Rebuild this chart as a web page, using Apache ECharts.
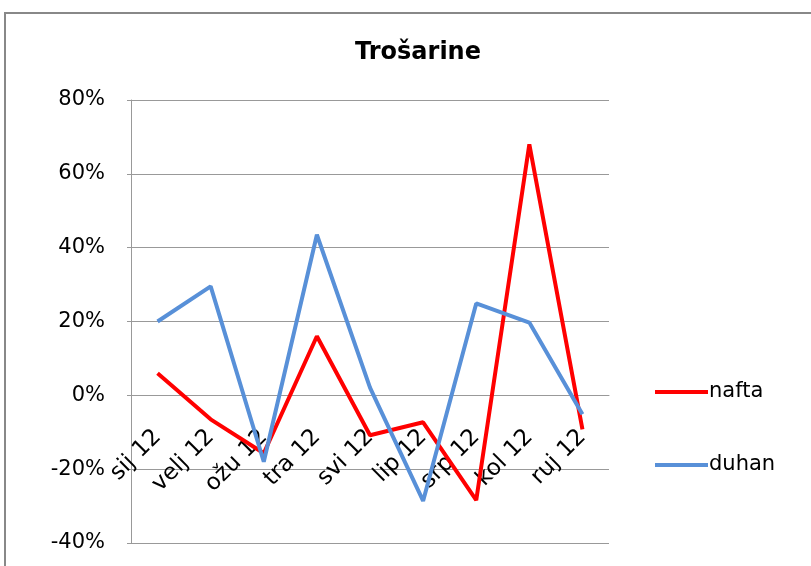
<!DOCTYPE html>
<html>
<head>
<meta charset="utf-8">
<script src="https://cdn.jsdelivr.net/npm/echarts@6/dist/echarts.min.js"></script>
<style>
  html, body { margin: 0; padding: 0; background: #fff; }
  #chart { width: 811px; height: 566px; }
</style>
</head>
<body>
<div id="chart"></div>
<script>
const months = ['sij 12', 'velj 12', 'ožu 12', 'tra 12', 'svi 12', 'lip 12', 'srp 12', 'kol 12', 'ruj 12']
const nafta = [0.06, -0.065, -0.157, 0.16, -0.108, -0.073, -0.284, 0.68, -0.092]
const duhan = [0.20, 0.295, -0.18, 0.435, 0.021, -0.286, 0.249, 0.197, -0.051]
const yTicks = [-0.4, 0.8, 0.2] // min, max, step

const font = 'DejaVu Sans'
const chart = echarts.init(document.getElementById('chart'))

// plot box, category axis sits on the 0% line like in Excel
const gridTop = 100, gridBottom = 23
const plotH = 566 - gridTop - gridBottom
const zeroOffset = -plotH * (0 - yTicks[0]) / (yTicks[1] - yTicks[0])

const option = {
    animation: false,
    title: {
        text: 'Trošarine',
        left: 413,
        textAlign: 'center',
        top: 36,
        textStyle: {
            fontFamily: font,
            fontWeight: 'bold',
            fontSize: 24,
            color: '#000'
        }
    },
    graphic: [{
        type: 'rect',
        shape: { x: 5, y: 13, width: 900, height: 700 },
        style: { fill: 'none', stroke: '#888', lineWidth: 2 },
        silent: true
    }],
    legend: {
        orient: 'vertical',
        left: 650,
        top: 375,
        itemGap: 49,
        icon: 'rect',
        itemWidth: 53,
        itemHeight: 4,
        textStyle: {
            fontFamily: font,
            fontSize: 21,
            color: '#000',
            lineHeight: 24,
            padding: [0, 0, 0, -4]
        },
        data: ['nafta', 'duhan']
    },
    grid: {
        left: 131,
        right: 202,
        top: gridTop,
        bottom: gridBottom,
        containLabel: false,
        outerBoundsMode: 'none'
    },
    xAxis: {
        type: 'category',
        data: months,
        boundaryGap: true,
        position: 'bottom',
        offset: zeroOffset,
        axisLine: {
            onZero: false,
            lineStyle: { color: '#999', width: 1 }
        },
        axisTick: { show: false },
        axisLabel: {
            rotate: 45,
            margin: 38,
            interval: 0,
            fontFamily: font,
            fontSize: 23,
            color: '#000'
        }
    },
    yAxis: {
        type: 'value',
        min: yTicks[0],
        max: yTicks[1],
        interval: yTicks[2],
        axisLine: {
            show: true,
            lineStyle: { color: '#999', width: 1 }
        },
        axisTick: {
            show: true,
            length: 4,
            lineStyle: { color: '#999' }
        },
        splitLine: {
            lineStyle: { color: '#999', width: 1 }
        },
        axisLabel: {
            margin: 26,
            fontFamily: font,
            fontSize: 21,
            color: '#000',
            formatter(v) {
                return Math.round(v * 100) + '%'
            }
        }
    },
    series: [
        {
            name: 'nafta',
            type: 'line',
            data: nafta,
            showSymbol: false,
            color: '#FF0000',
            lineStyle: { width: 4, color: '#FF0000' }
        },
        {
            name: 'duhan',
            type: 'line',
            data: duhan,
            showSymbol: false,
            color: '#5890D8',
            lineStyle: { width: 4, color: '#5890D8' }
        }
    ]
}

chart.setOption(option)
</script>
</body>
</html>
